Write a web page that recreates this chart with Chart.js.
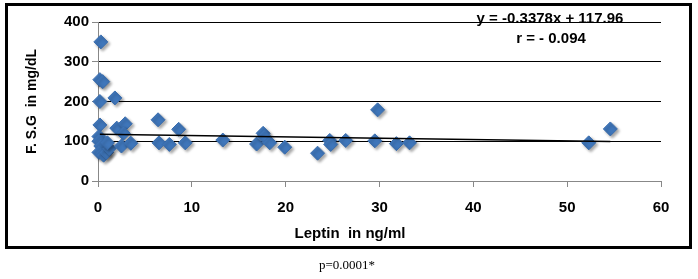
<!DOCTYPE html>
<html>
<head>
<meta charset="utf-8">
<script src="https://cdn.jsdelivr.net/npm/chart.js@4/dist/chart.umd.min.js"></script>
<style>
  html, body { margin: 0; padding: 0; background: #fff; }
  #wrap { width: 698px; height: 279px; position: relative; }
</style>
</head>
<body>
<div id="wrap"><canvas id="chart" width="698" height="279"></canvas></div>
<script>
// leptin (ng/ml) vs fasting serum glucose (mg/dL)
const leptin = [0.3, 0.2, 0.5, 0.2, 1.8, 0.2, 2.0, 2.9, 2.7, 0.1, 0.1, 0.3, 0.1, 0.6, 0.9, 1.2, 1.0, 2.5, 3.5,
  6.4, 8.6, 6.5, 7.6, 9.3, 13.3, 16.9, 17.6, 17.7, 18.3, 19.9, 23.4, 24.7, 24.8, 26.4, 29.5, 29.8, 31.8, 33.2, 52.3, 54.6];
const fsg = [350, 255, 250, 200, 209, 141, 133, 144, 120, 112, 100, 88, 72, 65, 72, 82, 96, 88, 95,
  154, 130, 96, 92, 96, 103, 93, 120, 112, 96, 85, 70, 102, 92, 102, 101, 179, 94, 96, 96, 131];

// trend line end points
const trendX = [0.2, 54.6];
const trendY = [117.9, 99.5];

const xTicks = [0, 10, 20, 30, 40, 50, 60];
const yTicks = [0, 100, 200, 300, 400];

const eqText = 'y = -0.3378x + 117.96';
const rText = 'r = - 0.094';
const xTitle = 'Leptin  in ng/ml';
const yTitle = 'F. S.G  in mg/dL';
const pText = 'p=0.0001*';

const points = leptin.map((x, i) => ({ x: x, y: fsg[i] }));
const trend = trendX.map((x, i) => ({ x: x, y: trendY[i] }));

const boldFont = 'bold 15px "Liberation Sans", Arial, sans-serif';

const extras = {
  id: 'extras',
  beforeDatasetDraw(chart, args) {
    if (args.index === 1) {
      const ctx = chart.ctx;
      ctx.save();
      ctx.shadowColor = 'rgba(0,0,0,0.35)';
      ctx.shadowBlur = 3;
      ctx.shadowOffsetX = 2;
      ctx.shadowOffsetY = 2;
    }
  },
  afterDatasetDraw(chart, args) {
    if (args.index === 1) chart.ctx.restore();
  },
  afterDraw(chart) {
    const ctx = chart.ctx;
    ctx.save();
    // outer frame
    ctx.strokeStyle = '#000';
    ctx.lineWidth = 3;
    ctx.strokeRect(6.5, 4.5, 684, 243);

    ctx.fillStyle = '#000';
    ctx.textAlign = 'center';
    ctx.textBaseline = 'middle';
    ctx.font = boldFont;
    ctx.fillText(eqText, 550, 19);
    ctx.fillText(rText, 551, 39);

    ctx.font = 'bold 15px "Liberation Sans", Arial, sans-serif';
    ctx.fillText(xTitle, 350, 234);

    ctx.font = '13px "Liberation Serif", "Times New Roman", serif';
    ctx.fillText(pText, 347, 266);
    ctx.restore();
  }
};

new Chart(document.getElementById('chart'), {
  type: 'scatter',
  data: {
    datasets: [
      {
        type: 'line',
        data: trend,
        borderColor: '#000',
        borderWidth: 1.5,
        pointRadius: 0,
        fill: false,
        order: 0
      },
      {
        data: points,
        pointStyle: 'rectRot',
        pointRadius: 7,
        pointHoverRadius: 7,
        backgroundColor: '#3F76BA',
        borderColor: '#3A6DAD',
        borderWidth: 1,
        clip: false,
        order: 1
      }
    ]
  },
  plugins: [extras],
  options: {
    responsive: false,
    animation: false,
    layout: { padding: { left: 0, right: 37, top: 22, bottom: 38 } },
    plugins: {
      legend: { display: false },
      tooltip: { enabled: false }
    },
    scales: {
      x: {
        type: 'linear',
        min: 0,
        max: 60,
        afterFit: s => { s.height = 60; },
        afterBuildTicks: s => { s.ticks = xTicks.map(v => ({ value: v })); },
        grid: { drawOnChartArea: false, drawTicks: true, tickLength: 6, tickColor: '#888' },
        border: { color: '#888', width: 1 },
        ticks: {
          color: '#000',
          padding: 12,
          font: { family: '"Liberation Sans", Arial, sans-serif', size: 15, weight: 'bold' }
        },
        title: { display: false }
      },
      y: {
        min: 0,
        max: 400,
        afterFit: s => { s.width = 98; },
        afterBuildTicks: s => { s.ticks = yTicks.map(v => ({ value: v })); },
        grid: {
          color: ctx => (ctx.tick && ctx.tick.value === 0 ? '#888' : '#000'),
          lineWidth: 1,
          drawTicks: true,
          tickLength: 6,
          tickColor: '#888'
        },
        border: { color: '#888', width: 1 },
        ticks: {
          color: '#000',
          padding: 3,
          font: { family: '"Liberation Sans", Arial, sans-serif', size: 15, weight: 'bold' }
        },
        title: {
          display: true,
          text: yTitle,
          color: '#000',
          padding: { top: 24, bottom: 0 },
          font: { family: '"Liberation Sans", Arial, sans-serif', size: 14, weight: 'bold' }
        }
      }
    }
  }
});
</script>
</body>
</html>
